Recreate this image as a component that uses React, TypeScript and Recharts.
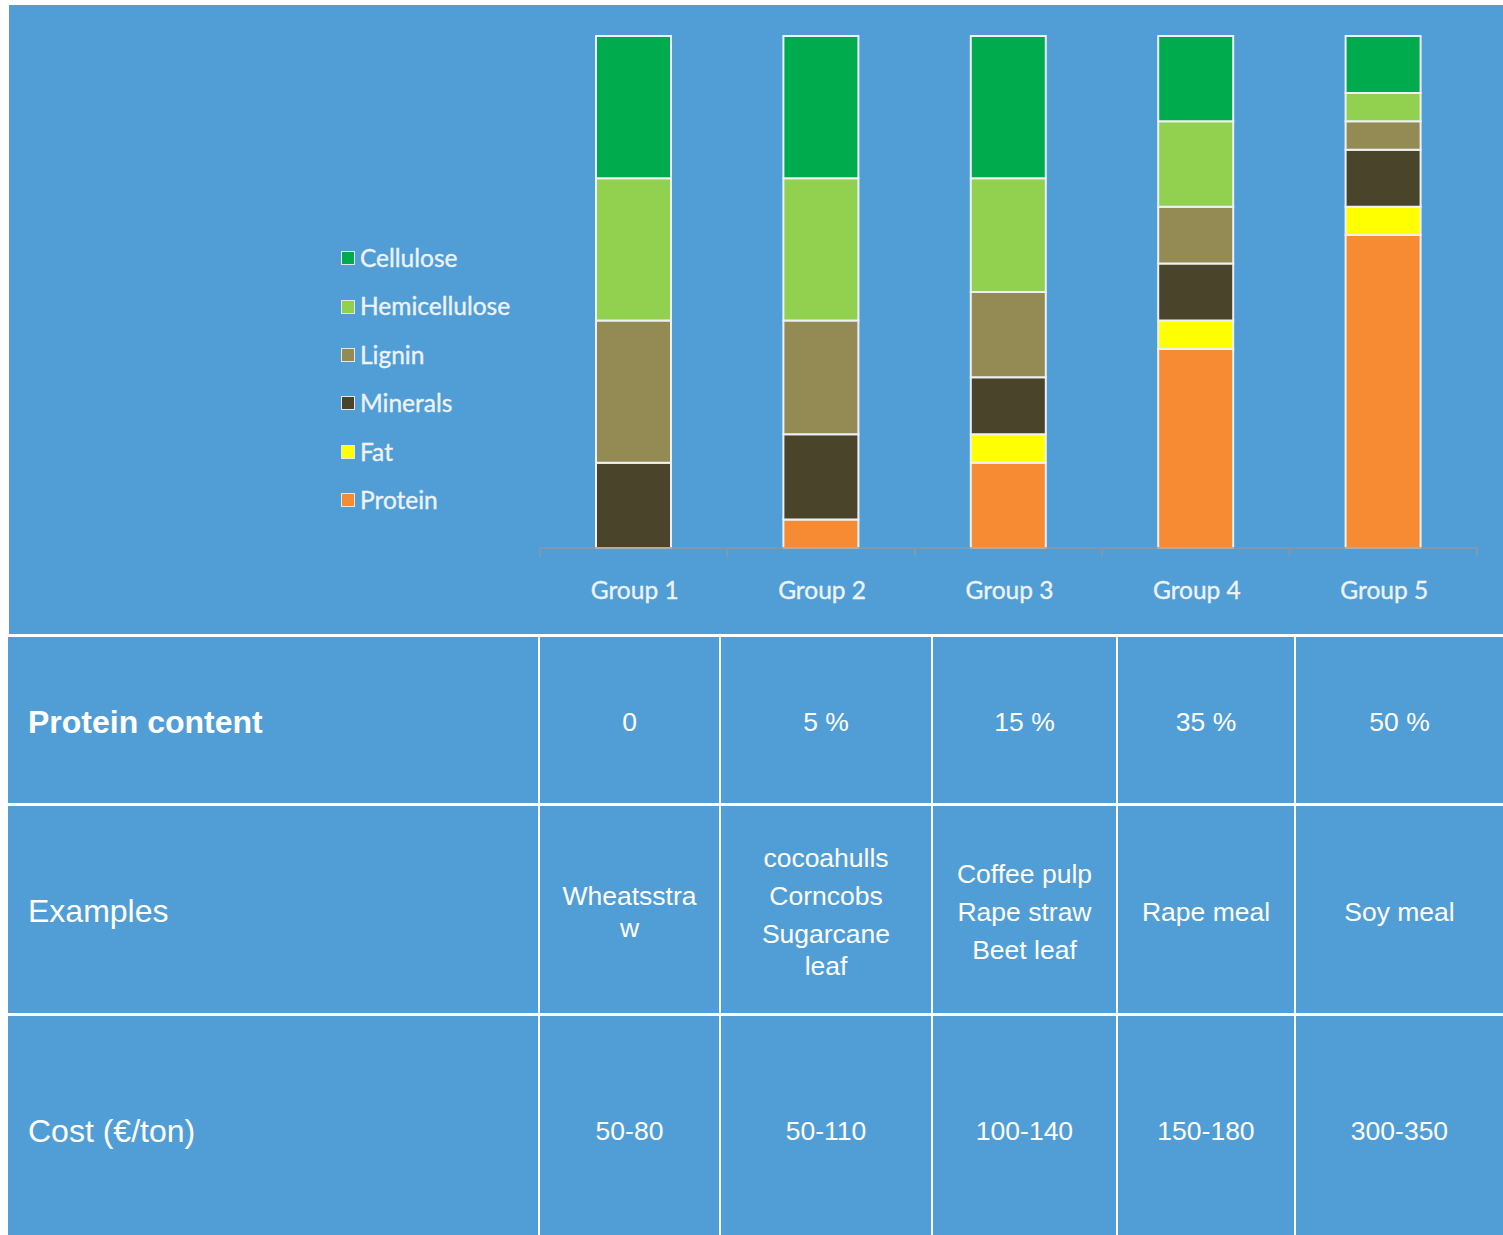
import React from "react";
import { BarChart, Bar, XAxis, YAxis, Legend } from "recharts";

// ------------------------------------------------------------
// Composition per group (stacked to a common total) + table
// ------------------------------------------------------------

const groups = ["Group 1", "Group 2", "Group 3", "Group 4", "Group 5"];
const protein = [0, 1, 3, 7, 11];
const fat = [0, 0, 1, 1, 1];
const minerals = [3, 3, 2, 2, 2];
const lignin = [5, 4, 3, 2, 1];
const hemicellulose = [5, 5, 4, 3, 1];
const cellulose = [5, 5, 5, 3, 2];

const proteinContent = ["0", "5 %", "15 %", "35 %", "50 %"];
const examples = [
  ["Wheatsstraw"],
  ["cocoahulls", "Corncobs", "Sugarcane leaf"],
  ["Coffee pulp", "Rape straw", "Beet leaf"],
  ["Rape meal"],
  ["Soy meal"],
];
const costs = ["50-80", "50-110", "100-140", "150-180", "300-350"];

const data = groups.map((group, i) => ({
  group,
  protein: protein[i],
  fat: fat[i],
  minerals: minerals[i],
  lignin: lignin[i],
  hemicellulose: hemicellulose[i],
  cellulose: cellulose[i],
}));

// bottom -> top
const series = [
  { key: "protein", name: "Protein", color: "#F68B33" },
  { key: "fat", name: "Fat", color: "#FFFF00" },
  { key: "minerals", name: "Minerals", color: "#4A442B" },
  { key: "lignin", name: "Lignin", color: "#948A54" },
  { key: "hemicellulose", name: "Hemicellulose", color: "#92D050" },
  { key: "cellulose", name: "Cellulose", color: "#00AB4E" },
];

const BLUE = "#519ED6";
const AXIS_COLOR = "#8C96A2";
const LIGHT_TEXT = "#EEF3F8";

const CHART_W = 1494;
const CHART_H = 629;
const MARGIN = { top: 31, right: 26, left: 531, bottom: 0 };
const XAXIS_H = 86;
const AXIS_Y = CHART_H - MARGIN.bottom - XAXIS_H;
const BAND = (CHART_W - MARGIN.left - MARGIN.right) / groups.length;

const labelFont: React.CSSProperties = {
  fontFamily: "Lato, sans-serif",
  fontSize: 24.5,
  WebkitTextStroke: "0.35px " + LIGHT_TEXT,
};

function GroupTick(props: any) {
  const { x, index, payload } = props;
  const last = index === groups.length - 1;
  return (
    <g>
      <line x1={x - BAND / 2} y1={AXIS_Y} x2={x - BAND / 2} y2={AXIS_Y + 9} stroke={AXIS_COLOR} strokeWidth={1.5} />
      {last && (
        <line x1={x + BAND / 2} y1={AXIS_Y} x2={x + BAND / 2} y2={AXIS_Y + 9} stroke={AXIS_COLOR} strokeWidth={1.5} />
      )}
      <text
        x={x + 1}
        y={AXIS_Y + 41}
        textAnchor="middle"
        dominantBaseline="central"
        fill={LIGHT_TEXT}
        stroke={LIGHT_TEXT}
        strokeWidth={0.35}
        style={{ fontFamily: "Lato, sans-serif", fontSize: 24.5 }}
      >
        {payload.value}
      </text>
    </g>
  );
}

function LegendBox() {
  const items = [...series].reverse();
  return (
    <div>
      {items.map((it) => (
        <div key={it.key} style={{ height: 48.4, display: "flex", alignItems: "center" }}>
          <span
            style={{
              width: 12,
              height: 12,
              background: it.color,
              border: "1.5px solid #E6E6E6",
              marginRight: 5,
              flex: "none",
            }}
          />
          <span style={{ ...labelFont, color: LIGHT_TEXT, lineHeight: 1 }}>{it.name}</span>
        </div>
      ))}
    </div>
  );
}

const cellBase: React.CSSProperties = {
  background: BLUE,
  color: "#FFFFFF",
  fontFamily: "'Liberation Sans', Arial, sans-serif",
  display: "flex",
  flexDirection: "column",
  alignItems: "center",
  justifyContent: "center",
  textAlign: "center",
  fontSize: 26.5,
  padding: "4px 18px 0",
  overflowWrap: "anywhere",
};

const headBase: React.CSSProperties = {
  ...cellBase,
  alignItems: "flex-start",
  textAlign: "left",
  fontSize: 32,
  padding: "4px 20px 0",
};

export default function App() {
  return (
    <div
      style={{
        position: "fixed",
        left: 0,
        top: 0,
        width: 1503,
        height: 1235,
        overflow: "hidden",
        background: "#FFFFFF",
      }}
    >
      <div style={{ position: "absolute", left: 9, top: 5, width: CHART_W, height: CHART_H, background: BLUE }}>
        <BarChart width={CHART_W} height={CHART_H} data={data} margin={MARGIN} barSize={75}>
          <XAxis
            dataKey="group"
            height={XAXIS_H}
            interval={0}
            tickLine={false}
            axisLine={{ stroke: AXIS_COLOR, strokeWidth: 1.5 }}
            tick={<GroupTick />}
          />
          <YAxis hide domain={[0, 18]} />
          <Legend
            layout="vertical"
            align="center"
            verticalAlign="middle"
            content={<LegendBox />}
            wrapperStyle={{ left: 332, top: 229, width: 220, height: 300 }}
          />
          {series.map((s) => (
            <Bar
              key={s.key}
              dataKey={s.key}
              name={s.name}
              stackId="a"
              fill={s.color}
              stroke="#EEF1F4"
              strokeWidth={2}
              isAnimationActive={false}
            />
          ))}
        </BarChart>
      </div>

      <div
        style={{
          position: "absolute",
          left: 8,
          top: 634,
          width: 1495,
          height: 620,
          background: "#FFFFFF",
          paddingTop: 3,
          boxSizing: "border-box",
          display: "grid",
          gridTemplateColumns: "530px 179px 210px 183px 176px 207px",
          gridTemplateRows: "166px 207px 226px",
          columnGap: 2,
          rowGap: 3,
        }}
      >
        <div style={{ ...headBase, fontWeight: 700 }}>Protein content</div>
        {proteinContent.map((v, i) => (
          <div key={"p" + i} style={cellBase}>
            {v}
          </div>
        ))}

        <div style={headBase}>Examples</div>
        {examples.map((lines, i) => (
          <div key={"e" + i} style={cellBase}>
            {lines.map((l, j) => (
              <div key={j} style={{ lineHeight: "32px", marginTop: j === 0 ? 0 : 6 }}>
                {l}
              </div>
            ))}
          </div>
        ))}

        <div style={headBase}>Cost (€/ton)</div>
        {costs.map((v, i) => (
          <div key={"c" + i} style={cellBase}>
            {v}
          </div>
        ))}
      </div>
    </div>
  );
}
